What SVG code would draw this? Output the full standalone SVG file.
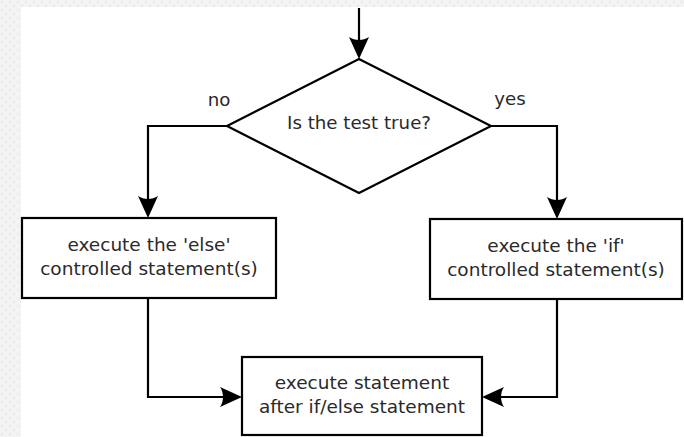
<svg xmlns="http://www.w3.org/2000/svg" width="684" height="437" viewBox="0 0 684 437">
  <style>
    .box { fill: #ffffff; stroke: #000000; stroke-width: 2.2; }
    .lbl { font-family: "DejaVu Sans", sans-serif; font-size: 18.5px; fill: #2a2a2a; text-anchor: middle; }
    .small { font-size: 18.2px; }
    .edge { fill: none; stroke: #000000; stroke-width: 2.2; marker-end: url(#arrow); }
  </style>
  <defs>
    <marker id="arrow" markerUnits="userSpaceOnUse" markerWidth="26" markerHeight="22" refX="20" refY="11" orient="auto" overflow="visible">
      <path d="M24,11 L2,1 C6,7 6,15 2,21 Z" fill="#000000"/>
    </marker>
    <pattern id="tex" width="8" height="8" patternUnits="userSpaceOnUse">
      <rect width="8" height="8" fill="#f4f4f4"/>
      <circle cx="2" cy="2" r="1.6" fill="#ececec"/>
      <circle cx="6" cy="6" r="1.6" fill="#ececec"/>
    </pattern>
  </defs>
  <rect x="0" y="0" width="684" height="437" fill="url(#tex)"/>
  <rect x="21" y="7" width="663" height="430" fill="#ffffff"/>

  <g id="connectors">
    <path class="edge" d="M359,8 L359,55"/>
    <path class="edge" d="M227,126 L148,126 L148,214"/>
    <path class="edge" d="M491,126 L557,126 L557,215"/>
    <path class="edge" d="M148,298 L148,397 L238,397"/>
    <path class="edge" d="M557,299 L557,397 L486,397"/>
    <text class="lbl small" x="219" y="106">no</text>
    <text class="lbl small" x="510" y="105">yes</text>
  </g>

  <g id="decision">
    <polygon class="box" points="359,59 491,126 359,193 227,126"/>
    <text class="lbl small" x="359" y="129">Is the test true?</text>
  </g>

  <g id="else-branch">
    <rect class="box" x="22" y="218" width="254" height="80"/>
    <text class="lbl" x="149" y="251">execute the 'else'</text>
    <text class="lbl" x="149" y="275">controlled statement(s)</text>
  </g>

  <g id="if-branch">
    <rect class="box" x="430" y="219" width="252" height="80"/>
    <text class="lbl" x="556" y="252">execute the 'if'</text>
    <text class="lbl" x="556" y="276">controlled statement(s)</text>
  </g>

  <g id="after">
    <rect class="box" x="242" y="357" width="240" height="78"/>
    <text class="lbl" x="362" y="389">execute statement</text>
    <text class="lbl" x="362" y="413">after if/else statement</text>
  </g>
</svg>
